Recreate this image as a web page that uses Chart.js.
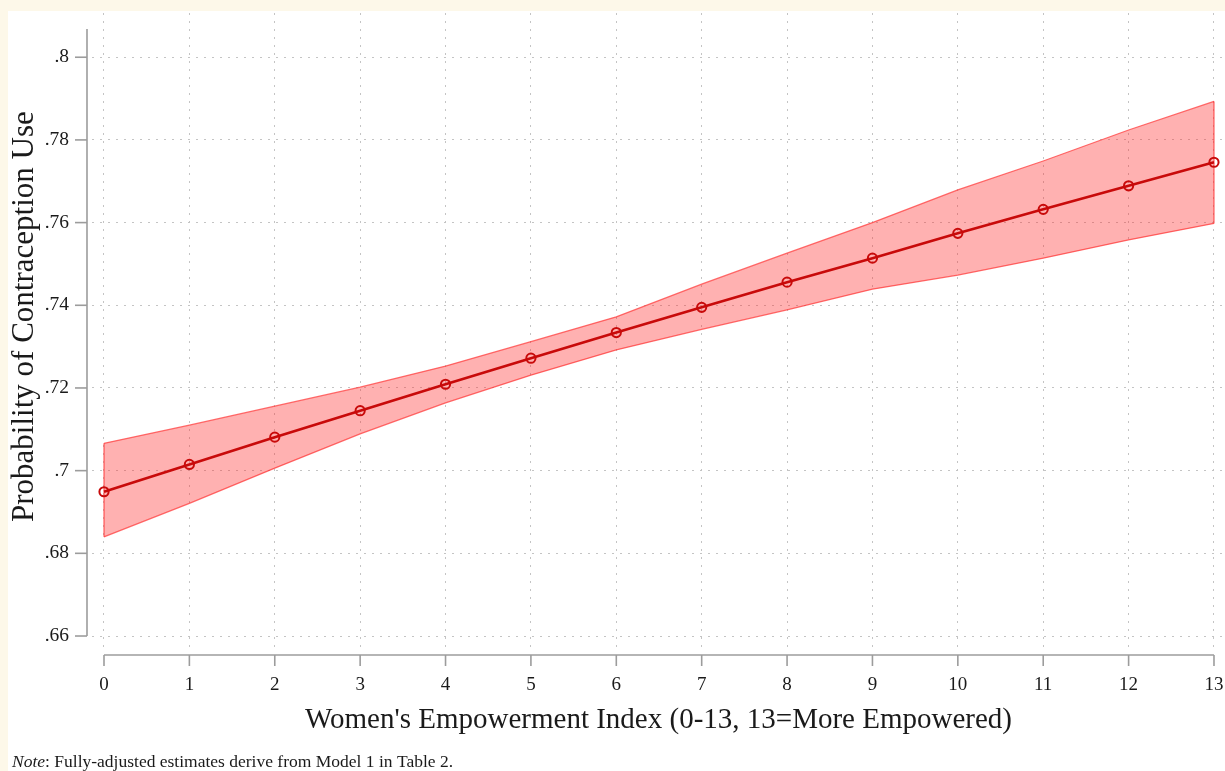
<!DOCTYPE html>
<html><head><meta charset="utf-8">
<script src="https://cdn.jsdelivr.net/npm/chart.js@4.4.0/dist/chart.umd.min.js"></script>
<style>
html,body{margin:0;padding:0;background:#fdf8e9;overflow:hidden}
#c{position:absolute;left:0;top:0}
</style></head>
<body>
<canvas id="c" width="1225" height="771"></canvas>
<script>
// ---- data ----
const xValues   = [0, 1, 2, 3, 4, 5, 6, 7, 8, 9, 10, 11, 12, 13];
const predicted = [0.6949, 0.7015, 0.7081, 0.7145, 0.7209, 0.7272, 0.7334, 0.7395, 0.7456, 0.7514, 0.7574, 0.7632, 0.7689, 0.7746];
const upperCI   = [0.7066, 0.7110, 0.7156, 0.7202, 0.7253, 0.7312, 0.7372, 0.7451, 0.7526, 0.7600, 0.7679, 0.7749, 0.7824, 0.7893];
const lowerCI   = [0.6840, 0.6921, 0.7006, 0.7089, 0.7164, 0.7231, 0.7292, 0.7342, 0.7389, 0.7439, 0.7473, 0.7514, 0.7558, 0.7598];
const xTicks      = [0, 1, 2, 3, 4, 5, 6, 7, 8, 9, 10, 11, 12, 13];
const xTickLabels = ['0','1','2','3','4','5','6','7','8','9','10','11','12','13'];
const yTicks      = [0.66, 0.68, 0.70, 0.72, 0.74, 0.76, 0.78, 0.80];
const yTickLabels = ['.66', '.68', '.7', '.72', '.74', '.76', '.78', '.8'];
const xTitle = "Women's Empowerment Index (0-13, 13=More Empowered)";
const yTitle = "Probability of Contraception Use";
const noteLabel = "Note";
const noteText = ": Fully-adjusted estimates derive from Model 1 in Table 2.";

// ---- styling ----
const SERIF = "'Liberation Serif', 'Times New Roman', serif";
const TEXT = '#1a1a1a';
const AXIS = '#9c9c9c';
const LINE_RED = '#c80a0a';
const BAND_FILL = 'rgba(255, 40, 40, 0.36)';
const BAND_EDGE = 'rgba(255, 60, 60, 0.75)';

const pts = (ys) => xValues.map((x, i) => ({ x: x, y: ys[i] }));
const first = 0, last = xValues.length - 1;

const bgPlugin = {
  id: 'bg',
  beforeDraw(chart) {
    const ctx = chart.ctx;
    ctx.save();
    ctx.fillStyle = '#fdf8e9';
    ctx.fillRect(0, 0, chart.width, chart.height);
    ctx.fillStyle = '#ffffff';
    ctx.fillRect(8, 11, chart.width - 8, chart.height - 11);
    ctx.restore();
  }
};

const axesPlugin = {
  id: 'stataAxes',
  afterDraw(chart) {
    const ctx = chart.ctx;
    const xs = chart.scales.x, ys = chart.scales.y;
    const area = chart.chartArea;
    ctx.save();
    ctx.strokeStyle = AXIS;
    ctx.lineWidth = 1.6;
    // y axis
    const yAxisX = area.left - 5;
    ctx.beginPath();
    ctx.moveTo(yAxisX, ys.getPixelForValue(yTicks[0]));
    ctx.lineTo(yAxisX, area.top + 16);
    ctx.stroke();
    yTicks.forEach(v => {
      const p = ys.getPixelForValue(v);
      ctx.beginPath(); ctx.moveTo(yAxisX - 12, p); ctx.lineTo(yAxisX, p); ctx.stroke();
    });
    // x axis
    const xAxisY = area.bottom + 7;
    ctx.beginPath();
    ctx.moveTo(xs.getPixelForValue(xTicks[0]), xAxisY);
    ctx.lineTo(xs.getPixelForValue(xTicks[xTicks.length - 1]), xAxisY);
    ctx.stroke();
    xTicks.forEach(v => {
      const p = xs.getPixelForValue(v);
      ctx.beginPath(); ctx.moveTo(p, xAxisY); ctx.lineTo(p, xAxisY + 11); ctx.stroke();
    });
    // y axis title (centred on the labelled range, as in the original)
    const yMid = (ys.getPixelForValue(yTicks[0]) + ys.getPixelForValue(yTicks[yTicks.length - 1])) / 2 - 30;
    ctx.fillStyle = TEXT;
    ctx.save();
    ctx.translate(25, yMid);
    ctx.rotate(-Math.PI / 2);
    ctx.textAlign = 'center';
    ctx.textBaseline = 'middle';
    ctx.font = '31px ' + SERIF;
    ctx.fillText(yTitle, 0, 0);
    ctx.restore();
    // note
    ctx.textBaseline = 'middle';
    ctx.textAlign = 'left';
    ctx.font = 'italic 17.5px ' + SERIF;
    ctx.fillText(noteLabel, 12, 762);
    const w = ctx.measureText(noteLabel).width;
    ctx.font = '17.5px ' + SERIF;
    ctx.fillText(noteText, 12 + w, 762);
    ctx.restore();
  }
};

new Chart(document.getElementById('c'), {
  type: 'scatter',
  data: {
    datasets: [
      {
        label: 'Predicted probability',
        data: pts(predicted),
        showLine: true,
        borderColor: LINE_RED,
        borderWidth: 2.6,
        pointRadius: 4.6,
        pointBorderWidth: 2,
        pointBorderColor: LINE_RED,
        pointBackgroundColor: 'rgba(0,0,0,0)',
        fill: false
      },
      {
        label: 'Upper CI',
        data: pts(upperCI),
        showLine: true,
        borderColor: BAND_EDGE,
        borderWidth: 1.3,
        pointRadius: 0,
        backgroundColor: BAND_FILL,
        fill: '+1'
      },
      {
        label: 'Lower CI',
        data: pts(lowerCI),
        showLine: true,
        borderColor: BAND_EDGE,
        borderWidth: 1.3,
        pointRadius: 0,
        fill: false
      },
      {
        label: 'CI left edge',
        data: [{ x: xValues[first], y: lowerCI[first] }, { x: xValues[first], y: upperCI[first] }],
        showLine: true, borderColor: BAND_EDGE, borderWidth: 1.3, pointRadius: 0, fill: false
      },
      {
        label: 'CI right edge',
        data: [{ x: xValues[last], y: lowerCI[last] }, { x: xValues[last], y: upperCI[last] }],
        showLine: true, borderColor: BAND_EDGE, borderWidth: 1.3, pointRadius: 0, fill: false
      }
    ]
  },
  options: {
    responsive: false,
    animation: false,
    events: [],
    layout: { autoPadding: false, padding: { top: 13, left: 0, right: 0, bottom: 33.6 } },
    plugins: {
      legend: { display: false },
      tooltip: { enabled: false },
      title: { display: false }
    },
    scales: {
      x: {
        type: 'linear',
        min: -0.1405,
        max: 13.129,
        afterBuildTicks(scale) { scale.ticks = xTicks.map(v => ({ value: v })); },
        afterFit(scale) { scale.height = 89.4; scale.paddingLeft = 0; scale.paddingRight = 0; },
        ticks: {
          autoSkip: false,
          maxRotation: 0,
          padding: 26,
          color: TEXT,
          font: { family: SERIF, size: 19 },
          callback: (v, i) => xTickLabels[i]
        },
        grid: { color: '#c4c4c4', lineWidth: 1, drawTicks: false },
        border: { display: false, dash: [2, 6] },
        title: {
          display: true,
          text: xTitle,
          color: TEXT,
          font: { family: SERIF, size: 29 },
          padding: { top: 6, bottom: 0 }
        }
      },
      y: {
        type: 'linear',
        min: 0.6571,
        max: 0.8107,
        afterBuildTicks(scale) { scale.ticks = yTicks.map(v => ({ value: v })); },
        afterFit(scale) { scale.width = 92; scale.paddingTop = 0; scale.paddingBottom = 0; },
        ticks: {
          autoSkip: false,
          padding: 23,
          color: TEXT,
          font: { family: SERIF, size: 19.5 },
          callback: (v, i) => yTickLabels[i]
        },
        grid: { color: '#c4c4c4', lineWidth: 1, drawTicks: false },
        border: { display: false, dash: [2, 6] },
        title: { display: false }
      }
    }
  },
  plugins: [bgPlugin, axesPlugin]
});
</script>
</body></html>
